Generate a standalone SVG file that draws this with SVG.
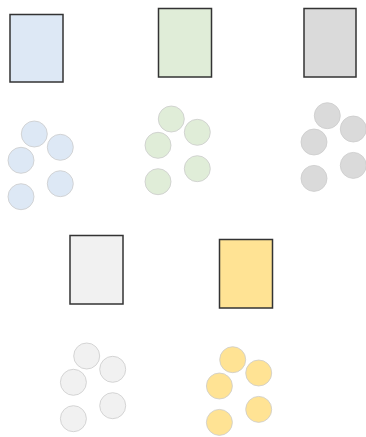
<svg xmlns="http://www.w3.org/2000/svg" width="366" height="437" viewBox="0 0 366 437">
<defs>
<style>
.box{stroke:#333333;stroke-width:1.5}
.dot{stroke:#cccccc;stroke-width:0.8}
.blue{fill:#dde8f5}
.green{fill:#e0edd8}
.gray{fill:#dadada}
.light{fill:#f1f1f1}
.yellow{fill:#ffe394}
</style>
<g id="cluster-dots">
<circle cx="0" cy="0" r="13"/>
<circle cx="26" cy="13.3" r="13"/>
<circle cx="-13.3" cy="26.3" r="13"/>
<circle cx="26" cy="49.7" r="13"/>
<circle cx="-13.3" cy="62.7" r="13"/>
</g>
</defs>
<rect width="366" height="437" fill="#ffffff"/>
<g id="connectors"></g>
<g id="node-blue">
<rect class="box blue" x="10" y="14.5" width="53" height="67.5"/>
<use href="#cluster-dots" x="34.3" y="134" class="dot blue"/>
</g>
<g id="node-green">
<rect class="box green" x="158.5" y="8.5" width="53" height="68.5"/>
<use href="#cluster-dots" x="171.3" y="119" class="dot green"/>
</g>
<g id="node-gray">
<rect class="box gray" x="304" y="8.5" width="52" height="68.5"/>
<use href="#cluster-dots" x="327.3" y="115.7" class="dot gray"/>
</g>
<g id="node-light">
<rect class="box light" x="70" y="235.5" width="53" height="68.5"/>
<use href="#cluster-dots" x="86.7" y="356" class="dot light"/>
</g>
<g id="node-yellow">
<rect class="box yellow" x="219.5" y="239.5" width="53" height="68.5"/>
<use href="#cluster-dots" x="232.7" y="359.7" class="dot yellow"/>
</g>
</svg>
